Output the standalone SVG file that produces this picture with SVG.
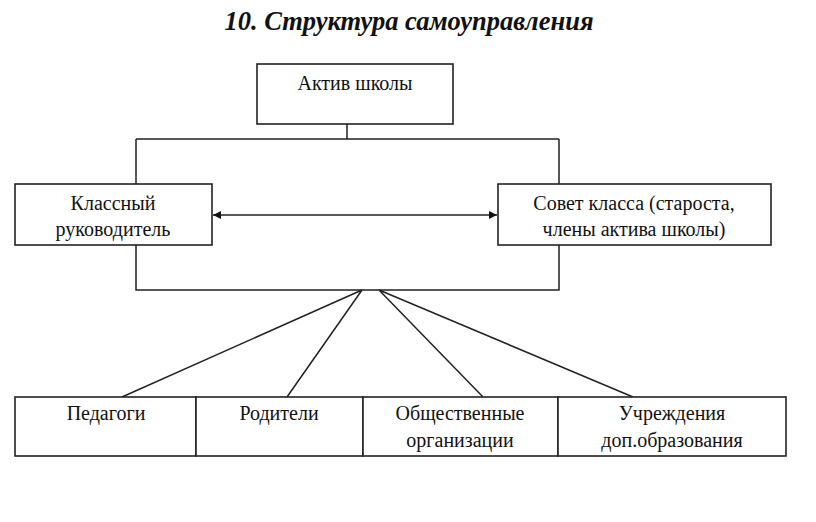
<svg xmlns="http://www.w3.org/2000/svg" width="816" height="522" viewBox="0 0 816 522">
<style>
.box{fill:#fff;stroke:#222;stroke-width:1.6}
.ln{fill:none;stroke:#222;stroke-width:1.5}
.t{font-family:"Liberation Serif","Times New Roman",serif;font-size:20px;fill:#111;text-anchor:middle}
.title{font-family:"Liberation Serif","Times New Roman",serif;font-size:26.5px;font-weight:bold;font-style:italic;fill:#111;text-anchor:middle}
</style>
<defs>
<marker id="ah" viewBox="0 0 10 10" refX="10" refY="5" markerWidth="10" markerHeight="8" markerUnits="userSpaceOnUse" orient="auto-start-reverse">
<path d="M0,0 L10,5 L0,10 Z" fill="#111"/>
</marker>
</defs>
<rect width="816" height="522" fill="#fff"/>
<text class="title" x="409" y="30">10. Структура самоуправления</text>
<g id="connectors">
<path class="ln" d="M347,124 V139 M136,139 H559 M136,139 V184 M559,139 V184"/>
<path class="ln" d="M136,245 V290 H559 V245"/>
<line class="ln" x1="213" y1="215" x2="497" y2="215" marker-start="url(#ah)" marker-end="url(#ah)"/>
<path class="ln" d="M362,290 L122,397 M362,290 L287,397 M379,290 L483,397 M379,290 L633,397"/>
</g>
<g id="aktiv">
<rect class="box" x="257" y="64" width="196" height="60"/>
<text class="t" x="355" y="90">Актив школы</text>
</g>
<g id="klassny">
<rect class="box" x="15" y="184" width="197" height="61"/>
<text class="t" x="113" y="210">Классный</text>
<text class="t" x="113" y="236">руководитель</text>
</g>
<g id="sovet">
<rect class="box" x="498" y="184" width="273" height="61"/>
<text class="t" x="634" y="210">Совет класса (староста,</text>
<text class="t" x="634" y="236">члены актива школы)</text>
</g>
<g id="pedagogi">
<rect class="box" x="15" y="397" width="181" height="59"/>
<text class="t" x="106" y="420">Педагоги</text>
</g>
<g id="roditeli">
<rect class="box" x="196" y="397" width="167" height="59"/>
<text class="t" x="279" y="420">Родители</text>
</g>
<g id="obshch">
<rect class="box" x="363" y="397" width="195" height="59"/>
<text class="t" x="460" y="420">Общественные</text>
<text class="t" x="460" y="447">организации</text>
</g>
<g id="uchrezhd">
<rect class="box" x="558" y="397" width="228" height="59"/>
<text class="t" x="672" y="420">Учреждения</text>
<text class="t" x="672" y="447">доп.образования</text>
</g>
</svg>
